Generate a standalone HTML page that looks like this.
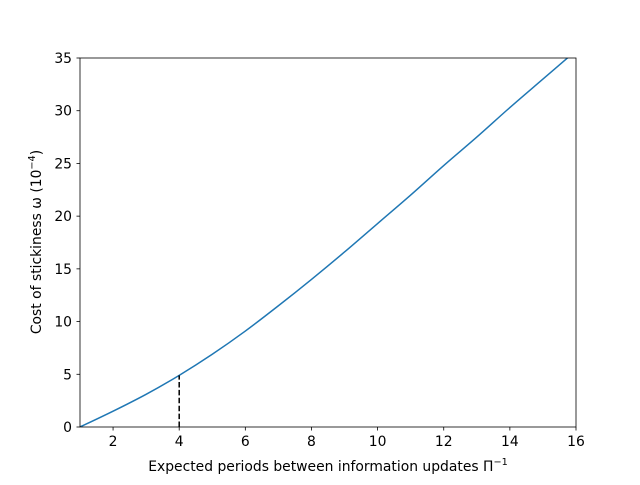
<!DOCTYPE html>
<html><head><meta charset="utf-8"><style>
html,body{margin:0;padding:0;background:#fff}
svg text{font-family:"DejaVu Sans","Liberation Sans",sans-serif;font-size:13.9px;fill:#000}
</style></head><body>
<svg id="chart" width="640" height="480" xmlns="http://www.w3.org/2000/svg">
<defs><clipPath id="clip"><rect x="80" y="58" width="496" height="369"/></clipPath></defs>
<rect width="640" height="480" fill="#fff"/>
<g id="plot"></g>
<rect x="80" y="58" width="496" height="369" fill="none" stroke="#000" stroke-width="0.8"/>
<text x="328" y="471" text-anchor="middle">Expected periods between information updates Π<tspan dy="-6" font-size="9.7">−1</tspan></text>
<text transform="translate(41,242) rotate(-90)" text-anchor="middle">Cost of stickiness ω (10<tspan dy="-6" font-size="9.7">−4</tspan><tspan dy="6">)</tspan></text>
</svg>
<script>
const xs=[1,2,3,4,5,6,7,8,9,10,11,12,13,14,15,16];
const ys=[0,1.5,3.1,4.9,6.9,9.1,11.5,14.0,16.6,19.3,22.0,24.8,27.5,30.3,33.0,35.7];
const xTicks=[2,4,6,8,10,12,14,16];
const yTicks=[0,5,10,15,20,25,30,35];
const markerX=4, markerY=4.9;
const X0=80,X1=576,Y0=427,Y1=58,xmin=1,xmax=16,ymin=0,ymax=35;
const sx=v=>X0+(v-xmin)/(xmax-xmin)*(X1-X0);
const sy=v=>Y0-(v-ymin)/(ymax-ymin)*(Y0-Y1);
const NS="http://www.w3.org/2000/svg";
const g=document.getElementById('plot');
function mk(t,a){const e=document.createElementNS(NS,t);for(const k in a)e.setAttribute(k,a[k]);g.appendChild(e);return e;}
xTicks.forEach(v=>{
 const l=mk('line',{x1:sx(v),x2:sx(v),y1:427,y2:430.5,stroke:'#000','stroke-width':0.8});
 
 
 const t=mk('text',{x:sx(v),y:446,'text-anchor':'middle'});t.textContent=v;
 
 
});
yTicks.forEach(v=>{
 const l=mk('line',{x1:76.5,x2:80,y1:sy(v),y2:sy(v),stroke:'#000','stroke-width':0.8});
 
 
 const t=mk('text',{x:72,y:sy(v)+5,'text-anchor':'end'});t.textContent=v;
 
 
});
const P=xs.map((x,i)=>[sx(x),sy(ys[i])]);
let dstr='M'+P[0][0]+','+P[0][1];
for(let i=0;i<P.length-1;i++){
 const p0=P[Math.max(0,i-1)],p1=P[i],p2=P[i+1],p3=P[Math.min(P.length-1,i+2)];
 const c1=[p1[0]+(p2[0]-p0[0])/6,p1[1]+(p2[1]-p0[1])/6];
 const c2=[p2[0]-(p3[0]-p1[0])/6,p2[1]-(p3[1]-p1[1])/6];
 dstr+=' C'+c1+' '+c2+' '+p2;
}
const p=mk('path',{d:dstr,fill:'none',stroke:'#1f77b4','stroke-width':1.5,'clip-path':'url(#clip)'});


const d=mk('line',{x1:sx(markerX),x2:sx(markerX),y1:sy(0),y2:sy(markerY),stroke:'#000','stroke-width':1.5,'stroke-dasharray':'5.5,2.4'});


</script>
</body></html>
